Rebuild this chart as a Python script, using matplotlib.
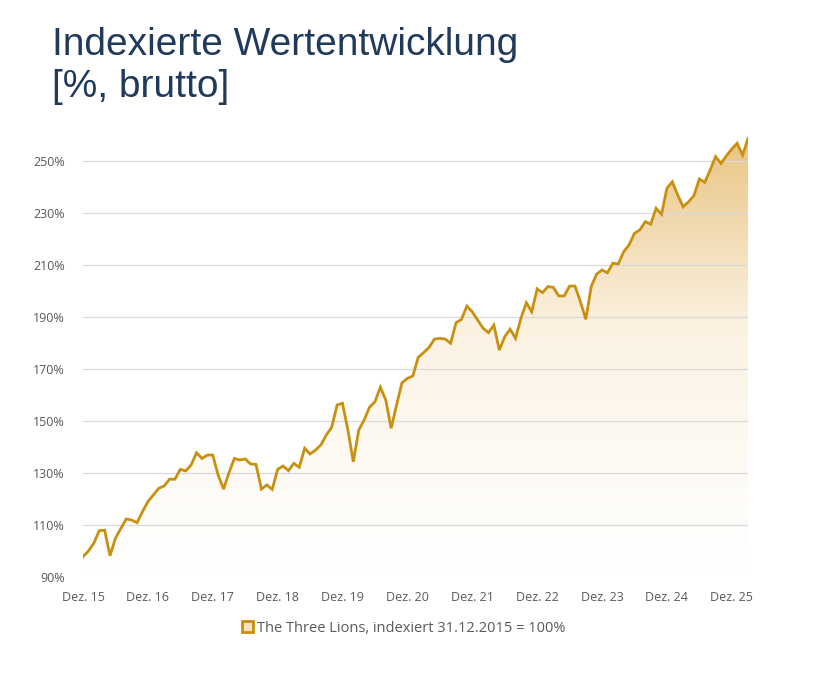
import numpy as np
import matplotlib.pyplot as plt
from matplotlib.colors import LinearSegmentedColormap
from matplotlib.patches import Patch

# Monatswerte ab Dez. 2015 (indexiert, in %)
werte = [
    97.8, 100.0, 103.0, 107.8, 108.0, 98.2, 104.9, 108.7, 112.3, 111.9,
    110.9, 115.1, 119.0, 121.5, 124.1, 125.0, 127.6, 127.6, 131.4, 130.8,
    133.1, 137.8, 135.6, 136.9, 136.9, 129.2, 123.8, 130.1, 135.6, 135.0,
    135.4, 133.5, 133.3, 123.8, 125.4, 123.7, 131.4, 132.7, 130.9, 133.7,
    132.2, 139.5, 137.3, 138.8, 140.8, 144.6, 147.6, 156.2, 156.8, 146.5,
    134.3, 146.5, 150.4, 155.3, 157.4, 163.0, 158.1, 147.2, 156.2, 164.7,
    166.4, 167.3, 174.5, 176.3, 178.3, 181.5, 181.8, 181.5, 179.9, 187.8,
    189.1, 194.2, 192.0, 188.8, 185.7, 184.0, 186.9, 177.3, 182.4, 185.3,
    181.8, 189.5, 195.5, 192.0, 200.8, 199.4, 201.7, 201.4, 198.1, 198.1,
    201.9, 201.9, 195.9, 189.1, 201.7, 206.5, 208.1, 207.0, 210.7, 210.4,
    215.1, 217.7, 222.2, 223.5, 226.7, 225.7, 231.8, 229.5, 239.5, 242.0,
    236.9, 232.4, 234.3, 236.7, 243.1, 241.8, 246.5, 251.7, 249.1, 252.0,
    254.6, 256.8, 252.3, 258.7,
]
x_labels = ['Dez. 15', 'Dez. 16', 'Dez. 17', 'Dez. 18', 'Dez. 19', 'Dez. 20',
            'Dez. 21', 'Dez. 22', 'Dez. 23', 'Dez. 24', 'Dez. 25']
y_ticks = [90, 110, 130, 150, 170, 190, 210, 230, 250]
serie = 'The Three Lions, indexiert 31.12.2015 = 100%'

gold = '#C8900E'
grau = '#595959'
ymin, ymax = 90, 260

monate = np.arange(len(werte))
x_pos = np.arange(len(x_labels)) * 12

fig = plt.figure(figsize=(8.22, 6.79), dpi=100)
ax = fig.add_axes([83 / 822, 1 - 577 / 679, 665 / 822, 442 / 679])

# Flaeche mit vertikalem Farbverlauf
cmap = LinearSegmentedColormap.from_list('verlauf', ['#FFFFFF', '#FBF2E2', '#E8C482'])
grad = np.linspace(0, 1, 256).reshape(-1, 1) ** 1.2
img = ax.imshow(grad, extent=[monate[0], monate[-1], ymin, ymax], origin='lower',
                aspect='auto', cmap=cmap, zorder=1)
poly = ax.fill_between(monate, werte, ymin, color='none', lw=0)
img.set_clip_path(poly.get_paths()[0], transform=ax.transData)

for t in y_ticks[1:]:
    ax.axhline(t, color='#D9D9D9', lw=0.9, zorder=2)

ax.plot(monate, werte, color=gold, lw=2.0, zorder=3, solid_joinstyle='miter')

ax.set_xlim(monate[0], monate[-1])
ax.set_ylim(ymin, ymax)
ax.set_xticks(x_pos)
ax.set_xticklabels(x_labels)
ax.set_yticks(y_ticks)
ax.set_yticklabels([f'{t}%' for t in y_ticks])
ax.tick_params(length=0, labelcolor=grau, labelsize=9)
ax.tick_params(axis='x', pad=10)
ax.tick_params(axis='y', pad=13)
for lbl in ax.get_xticklabels() + ax.get_yticklabels():
    lbl.set_family('Open Sans')
for s in ax.spines.values():
    s.set_visible(False)

fig.text(52 / 822, 1 - 27 / 679, 'Indexierte Wertentwicklung\n[%, brutto]',
         family='Liberation Sans', fontsize=28, color='#1F3A5A',
         va='top', ha='left', linespacing=1.22)

handle = Patch(facecolor='#F3E2BE', edgecolor=gold, lw=2)
fig.legend([handle], [serie], loc='center', bbox_to_anchor=(404 / 822, 1 - 628 / 679),
           frameon=False, handlelength=0.7, handleheight=0.7, handletextpad=0.3,
           prop={'family': 'Open Sans', 'size': 10.5}, labelcolor=grau)

fig.savefig('out.png', dpi=100)
